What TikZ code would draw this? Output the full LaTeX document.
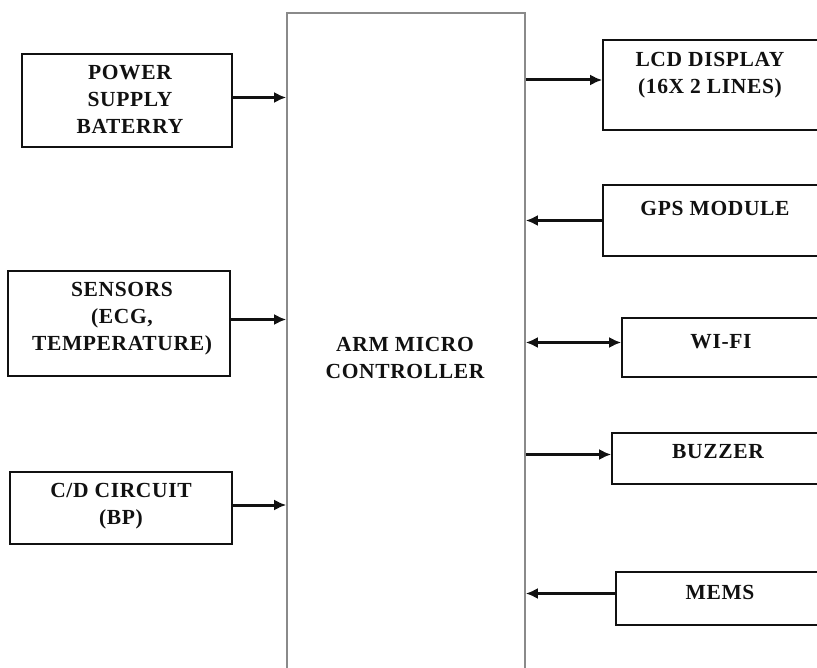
\documentclass[tikz,border=0pt]{standalone}
\usepackage{fontspec}
\setmainfont{Liberation Serif}
\newfontfamily\blkfont[LetterSpace=3]{Liberation Serif}
\definecolor{ink}   {HTML}{111111}
\definecolor{frame} {HTML}{8A8A8A}
\usetikzlibrary{positioning,arrows.meta}
\tikzset{
  blk/.style={draw=ink,line width=1.6pt,fill=white,inner sep=0pt},
  mcubox/.style={draw=frame,line width=1.6pt,fill=white,inner sep=0pt},
  lbl/.style={font=\blkfont\fontsize{21.5}{27}\selectfont\bfseries,text=ink,align=center,inner sep=0pt},
  wire/.style={-{Latex[length=12pt,width=11pt]},line width=3pt,draw=ink},
  wire2/.style={{Latex[length=12pt,width=11pt]}-{Latex[length=12pt,width=11pt]},line width=3pt,draw=ink}
}
\begin{document}
\begin{tikzpicture}[x=1pt,y=-1pt]
  \clip (0,0) rectangle (817,668);
  \fill[white] (0,0) rectangle (817,668);
  % controller in the middle
  \node[mcubox,minimum width=238pt,minimum height=662pt] (mcu) at (406,344) {};
  \node[lbl] (mcutxt) at (405,358) {ARM MICRO\\CONTROLLER};
  % inputs on the left
  \node[blk,minimum width=210pt,minimum height=93pt] (pow) at (127,100.5) {};
  \node[lbl] (powtxt) at (130,99) {POWER\\SUPPLY\\BATERRY};
  \node[blk,minimum width=222pt,minimum height=105pt] (sen) at (119,323.5) {};
  \node[lbl] (sentxt) at (122,319) {SENSORS\\(ECG,\\TEMPERATURE)};
  \node[blk,minimum width=222pt,minimum height=72pt] (cd) at (121,508) {};
  \node[lbl] (cdtxt) at (121,506) {C/D CIRCUIT\\(BP)};
  % peripherals on the right
  \node[blk,minimum width=219pt,minimum height=90pt] (lcd) at (712.5,85) {};
  \node[lbl] (lcdtxt) at (710,75) {LCD DISPLAY\\(16X 2 LINES)};
  \node[blk,minimum width=219pt,minimum height=71pt] (gps) at (712.5,220.5) {};
  \node[lbl] (gpstxt) at (715,208) {GPS MODULE};
  \node[blk,minimum width=200pt,minimum height=59pt] (wifi) at (722,347.5) {};
  \node[lbl] (wifitxt) at (721,342) {WI-FI};
  \node[blk,minimum width=210pt,minimum height=51pt] (buz) at (717,458.5) {};
  \node[lbl] (buztxt) at (718,452) {BUZZER};
  \node[blk,minimum width=206pt,minimum height=53pt] (mems) at (719,598.5) {};
  \node[lbl] (memstxt) at (720,592) {MEMS};
  % connectors
  \draw[wire] ([yshift=3pt]pow.east) -- ([yshift=3pt]pow.east -| mcu.west);
  \draw[wire] ([yshift=4pt]sen.east) -- ([yshift=4pt]sen.east -| mcu.west);
  \draw[wire] ([yshift=3pt]cd.east) -- ([yshift=3pt]cd.east -| mcu.west);
  \draw[wire] ([yshift=5pt]lcd.west -| mcu.east) -- ([yshift=5pt]lcd.west);
  \draw[wire] (gps.west) -- (gps.west -| mcu.east);
  \draw[wire2] ([yshift=5pt]wifi.west -| mcu.east) -- ([yshift=5pt]wifi.west);
  \draw[wire] ([yshift=4pt]buz.west -| mcu.east) -- ([yshift=4pt]buz.west);
  \draw[wire] ([yshift=5pt]mems.west) -- ([yshift=5pt]mems.west -| mcu.east);
\end{tikzpicture}
\end{document}
